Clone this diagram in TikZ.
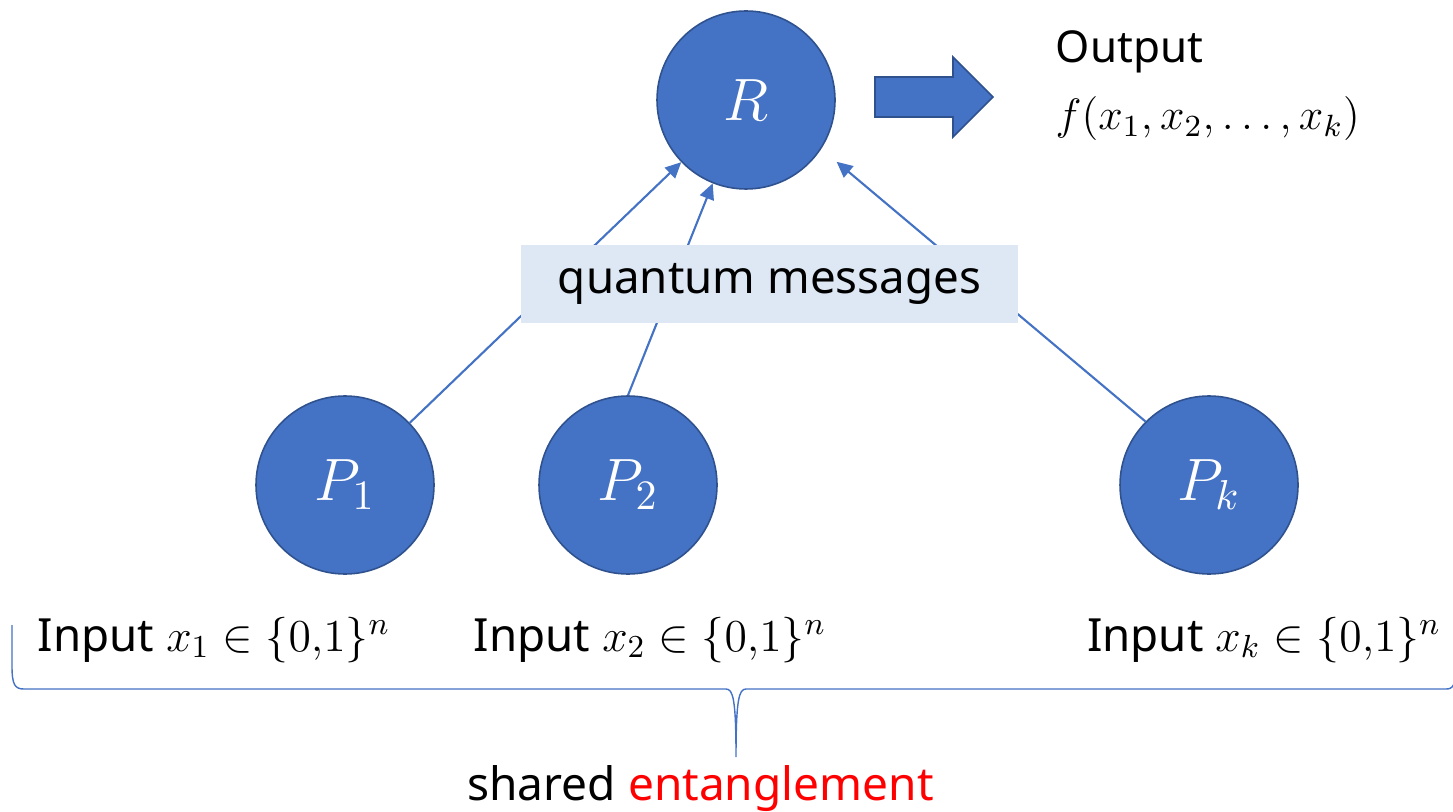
\documentclass[tikz,border=0pt]{standalone}
\usepackage{fix-cm}
\usepackage{fontspec}
\setmainfont{Noto Sans}
\usepackage{amsmath}
\usepackage{amssymb}
\usetikzlibrary{arrows.meta}

\definecolor{nodeblue}{HTML}{4472C4}
\definecolor{nodeedge}{HTML}{2F528F}
\definecolor{msgfill}{HTML}{DDE8F4}

\tikzset{
  party/.style={circle, draw=nodeedge, line width=0.45pt, fill=nodeblue, text=white,
    minimum size=1.78cm, inner sep=0pt, font=\fontsize{17}{20}\selectfont},
  msgarrow/.style={draw=nodeblue, line width=0.6pt, -{Triangle[length=4.5pt, width=4.2pt]}},
  inputtext/.style={anchor=base, font=\fontsize{13}{16}\selectfont},
}

\begin{document}
\begin{tikzpicture}
\useasboundingbox (0, 0) rectangle (14.53, 8.11);

% referee and players
\node[party] (R) at (7.46, 7.11) {$R$};
\node[party] (P1) at (3.45, 3.26) {$P_1$};
\node[party] (P2) at (6.28, 3.26) {$P_2$};
\node[party] (Pk) at (12.09, 3.26) {$P_k$};

% messages to the referee
\draw[msgarrow] (P1) -- (R);
\draw[msgarrow] (P2.north) -- (R);
\draw[msgarrow, shorten >=0.2cm] (Pk.135) -- (R.-33);
\node[fill=msgfill, minimum width=4.97cm, minimum height=0.78cm, font=\fontsize{13}{16}\selectfont] (qmsg) at (7.695, 5.27) {quantum messages};

% output
\filldraw[fill=nodeblue, draw=nodeedge, line width=0.45pt] (8.75, 7.34) -- (9.53, 7.34) -- (9.53, 7.54) -- (9.93, 7.14) -- (9.53, 6.74) -- (9.53, 6.94) -- (8.75, 6.94) -- cycle;
\node[anchor=base west, inner sep=0pt, font=\fontsize{12.5}{15}\selectfont] (outtext) at (10.55, 7.48) {Output};
\node[anchor=base west, inner sep=0pt, font=\fontsize{12.5}{15}\selectfont] (outfn) at (10.55, 6.81) {$f(x_1,x_2,\ldots,x_k)$};

% inputs
\node[inputtext] (in1) at (2.14, 1.60) {Input $x_1\in\{0{,}1\}^n$};
\node[inputtext] (in2) at (6.50, 1.60) {Input $x_2\in\{0{,}1\}^n$};
\node[inputtext] (ink) at (12.64, 1.60) {Input $x_k\in\{0{,}1\}^n$};

% brace
\draw[nodeblue, line width=0.4pt] (0.12, 1.86) -- (0.12, 1.45) .. controls (0.12, 1.26) and (0.15, 1.22) .. (0.24, 1.22)
  -- (7.26, 1.22) .. controls (7.33, 1.22) and (7.36, 1.12) .. (7.36, 0.54)
  .. controls (7.36, 1.12) and (7.39, 1.22) .. (7.46, 1.22)
  -- (14.46, 1.22) .. controls (14.53, 1.22) and (14.56, 1.26) .. (14.56, 1.45) -- (14.56, 1.86);
\node[anchor=base, font=\fontsize{13.1}{16}\selectfont] (shared) at (7.005, 0.11) {shared \textcolor{red}{entanglement}};
\end{tikzpicture}
\end{document}
